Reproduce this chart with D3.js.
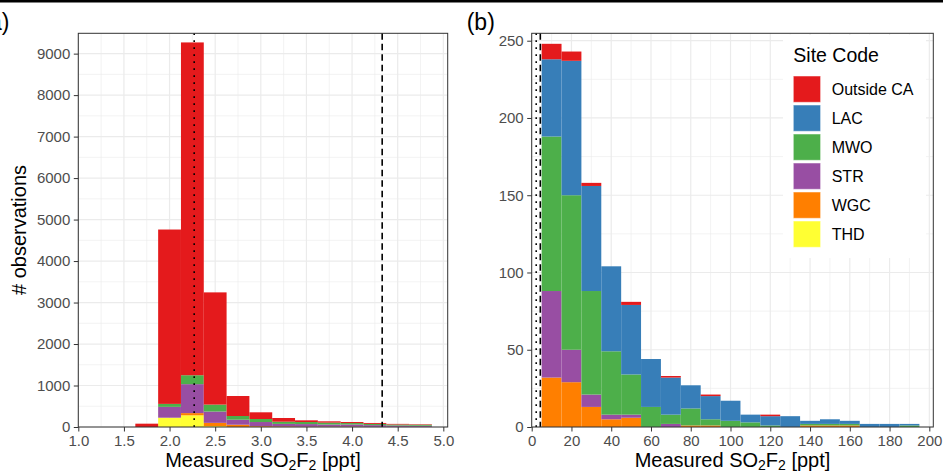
<!DOCTYPE html>
<html>
<head>
<meta charset="utf-8">
<script src="https://cdn.jsdelivr.net/npm/d3@7"></script>
<style>
  body { margin: 0; background: #fff; }
  svg { display: block; font-family: "Liberation Sans", Arial, sans-serif; }
</style>
</head>
<body>
<script>
// site codes in legend order (top of each stack first)
const sites = ["Outside CA", "LAC", "MWO", "STR", "WGC", "THD"]
const siteColors = ["#E41A1C", "#377EB8", "#4DAF4A", "#984EA3", "#FF7F00", "#FFFF33"]

// panel (a): background sites, 0.25 ppt bins (bin centres)
const binsA = [1.75, 2.0, 2.25, 2.5, 2.75, 3.0, 3.25, 3.5, 3.75, 4.0, 4.25, 4.5, 4.75]
const outsideA = [80, 4203, 8022, 2705, 482, 161, 89, 41, 32, 25, 22, 15, 12]
const lacA = [0, 0, 0, 0, 0, 0, 0, 0, 0, 0, 0, 0, 0]
const mwoA = [0, 72, 215, 167, 89, 73, 53, 50, 45, 35, 30, 25, 25]
const strA = [0, 261, 698, 273, 121, 100, 60, 60, 50, 50, 40, 30, 25]
const wgcA = [0, 0, 53, 80, 55, 20, 15, 10, 10, 10, 5, 5, 5]
const thdA = [0, 224, 282, 20, 0, 0, 0, 0, 0, 0, 0, 0, 0]
const xTicksA = [1.0, 1.5, 2.0, 2.5, 3.0, 3.5, 4.0, 4.5, 5.0]
const yTicksA = [0, 1000, 2000, 3000, 4000, 5000, 6000, 7000, 8000, 9000]

// panel (b): enhanced observations, 10 ppt bins (bin centres)
const binsB = [10, 20, 30, 40, 50, 60, 70, 80, 90, 100, 110, 120, 130, 140, 150, 160, 170, 180, 190]
const outsideB = [10, 6, 2, 0, 2, 0, 1, 0, 1, 0, 0, 1, 0, 0, 0, 0, 0, 0, 0]
const lacB = [50, 87, 68, 55, 45, 31, 24, 15, 15, 13, 5, 6, 7, 2, 3, 2, 2, 2, 1]
const mwoB = [100, 100, 67, 41, 26, 13, 6, 11, 4, 4, 3, 1, 0, 1, 1, 1, 0, 0, 1]
const strB = [56, 21, 8, 3, 2, 0, 2, 0, 0, 0, 0, 0, 0, 0, 0, 0, 0, 0, 0]
const wgcB = [32, 29, 13, 5, 6, 0, 0, 1, 1, 0, 0, 0, 0, 1, 1, 1, 0, 0, 0]
const thdB = [0, 0, 0, 0, 0, 0, 0, 0, 0, 0, 0, 0, 0, 0, 0, 0, 0, 0, 0]
const xTicksB = [0, 20, 40, 60, 80, 100, 120, 140, 160, 180, 200]
const yTicksB = [0, 50, 100, 150, 200, 250]

// reference lines (ppt)
const dottedAt = 2.27
const dashedAt = 4.33

const width = 943, height = 474
const svg = d3.select("body").append("svg").attr("width", width).attr("height", height)

// thick rule across the top
svg.append("rect").attr("x", 0).attr("y", 0).attr("width", width).attr("height", 2.5).attr("fill", "#000")

function makeRows(bins, cols) {
    return bins.map((b, i) => {
        let row = {bin: b}
        sites.forEach((s, k) => row[s] = cols[k][i])
        return row
    })
}

function drawPanel(p) {
    let x = d3.scaleLinear().domain(p.xDomain).range([p.left, p.right])
    let y = d3.scaleLinear().domain(p.yDomain).range([p.bottom, p.top])
    let g = svg.append("g")

    // grid: minor then major
    let grid = g.append("g").attr("stroke", "#EBEBEB")
    grid.selectAll(".vmin").data(p.xMinor).join("line")
        .attr("x1", d => x(d)).attr("x2", d => x(d)).attr("y1", p.top).attr("y2", p.bottom)
        .attr("stroke-width", 0.6)
    grid.selectAll(".hmin").data(p.yMinor).join("line")
        .attr("y1", d => y(d)).attr("y2", d => y(d)).attr("x1", p.left).attr("x2", p.right)
        .attr("stroke-width", 0.6)
    grid.selectAll(".vmaj").data(p.xTicks).join("line")
        .attr("x1", d => x(d)).attr("x2", d => x(d)).attr("y1", p.top).attr("y2", p.bottom)
        .attr("stroke-width", 1.2)
    grid.selectAll(".hmaj").data(p.yTicks).join("line")
        .attr("y1", d => y(d)).attr("y2", d => y(d)).attr("x1", p.left).attr("x2", p.right)
        .attr("stroke-width", 1.2)

    // stacked histogram, THD at the bottom
    let stack = d3.stack().keys(sites.slice().reverse())(p.rows)
    g.append("g").selectAll("g").data(stack).join("g")
        .attr("fill", d => siteColors[sites.indexOf(d.key)])
        .selectAll("rect").data(d => d.filter(v => v[1] > v[0])).join("rect")
        .attr("x", d => x(d.data.bin - p.binWidth / 2))
        .attr("width", d => x(d.data.bin + p.binWidth / 2) - x(d.data.bin - p.binWidth / 2))
        .attr("y", d => y(d[1]))
        .attr("height", d => y(d[0]) - y(d[1]))

    // detection / background reference lines
    g.append("line").attr("x1", x(dottedAt)).attr("x2", x(dottedAt)).attr("y1", p.top).attr("y2", p.bottom)
        .attr("stroke", "#000").attr("stroke-width", 1.6).attr("stroke-dasharray", "1.6,5.4")
    g.append("line").attr("x1", x(dashedAt)).attr("x2", x(dashedAt)).attr("y1", p.top).attr("y2", p.bottom)
        .attr("stroke", "#000").attr("stroke-width", 1.6).attr("stroke-dasharray", "6.5,4")

    if (p.legend) drawLegend(g)

    // panel border
    g.append("rect").attr("x", p.left).attr("y", p.top)
        .attr("width", p.right - p.left).attr("height", p.bottom - p.top)
        .attr("fill", "none").attr("stroke", "#333").attr("stroke-width", 1)

    // axes
    let xAxis = g.append("g").attr("transform", `translate(0,${p.bottom})`)
        .call(d3.axisBottom(x).tickValues(p.xTicks).tickSize(4.5).tickPadding(4).tickFormat(p.xFormat))
    let yAxis = g.append("g").attr("transform", `translate(${p.left},0)`)
        .call(d3.axisLeft(y).tickValues(p.yTicks).tickSize(4.5).tickPadding(3.5).tickFormat(d3.format("d")))
    for (let a of [xAxis, yAxis]) {
        a.select(".domain").remove()
        a.selectAll("line").attr("stroke", "#333")
        a.selectAll("text").attr("fill", "#4D4D4D").style("font-size", "15px")
        a.attr("font-family", null)
    }

    // x title with subscripts
    let t = g.append("text").attr("x", (p.left + p.right) / 2).attr("y", 466.5)
        .attr("text-anchor", "middle").style("font-size", "20px").attr("fill", "#000")
    t.append("tspan").text("Measured SO")
    t.append("tspan").text("2").style("font-size", "14px").attr("dy", 3.5)
    t.append("tspan").text("F").attr("dy", -3.5)
    t.append("tspan").text("2").style("font-size", "14px").attr("dy", 3.5)
    t.append("tspan").text(" [ppt]").attr("dy", -3.5)

    // panel tag
    g.append("text").attr("x", p.tagX).attr("y", 30).attr("text-anchor", p.tagAnchor)
        .style("font-size", "23px").text(p.tag)
}

function drawLegend(g) {
    let lg = g.append("g")
    lg.append("rect").attr("x", 783).attr("y", 35).attr("width", 143).attr("height", 223).attr("fill", "#fff")
    lg.append("text").attr("x", 793.3).attr("y", 61.5).style("font-size", "19.5px").text("Site Code")
    let item = lg.selectAll(".item").data(sites).join("g")
        .attr("transform", (d, i) => `translate(793.3,${76 + i * 29})`)
    item.append("rect").attr("width", 27.3).attr("height", 26.3)
        .attr("fill", (d, i) => siteColors[i]).attr("stroke", "#fff").attr("stroke-opacity", 0.5)
    item.append("text").attr("x", 38.4).attr("y", 19).style("font-size", "16px").text(d => d)
}

drawPanel({
    left: 78.3, right: 447.7, top: 33.3, bottom: 427,
    xDomain: [1, 5.048], yDomain: [0, 9490],
    xTicks: xTicksA, yTicks: yTicksA,
    xMinor: d3.range(1.25, 5, 0.5), yMinor: d3.range(500, 9500, 1000),
    xFormat: d3.format(".1f"),
    binWidth: 0.25,
    rows: makeRows(binsA, [outsideA, lacA, mwoA, strA, wgcA, thdA]),
    tag: "(a)", tagX: 9.5, tagAnchor: "end"
})

drawPanel({
    left: 531.7, right: 933.3, top: 33.3, bottom: 427,
    xDomain: [0, 202], yDomain: [0, 254.8],
    xTicks: xTicksB, yTicks: yTicksB,
    xMinor: d3.range(10, 200, 20), yMinor: d3.range(25, 250, 50),
    xFormat: d3.format("d"),
    binWidth: 10,
    rows: makeRows(binsB, [outsideB, lacB, mwoB, strB, wgcB, thdB]),
    tag: "(b)", tagX: 466.7, tagAnchor: "start",
    legend: true
})

// y title
svg.append("text").attr("transform", "translate(26,230) rotate(-90)")
    .attr("text-anchor", "middle").style("font-size", "20px").text("# observations")
</script>
</body>
</html>
